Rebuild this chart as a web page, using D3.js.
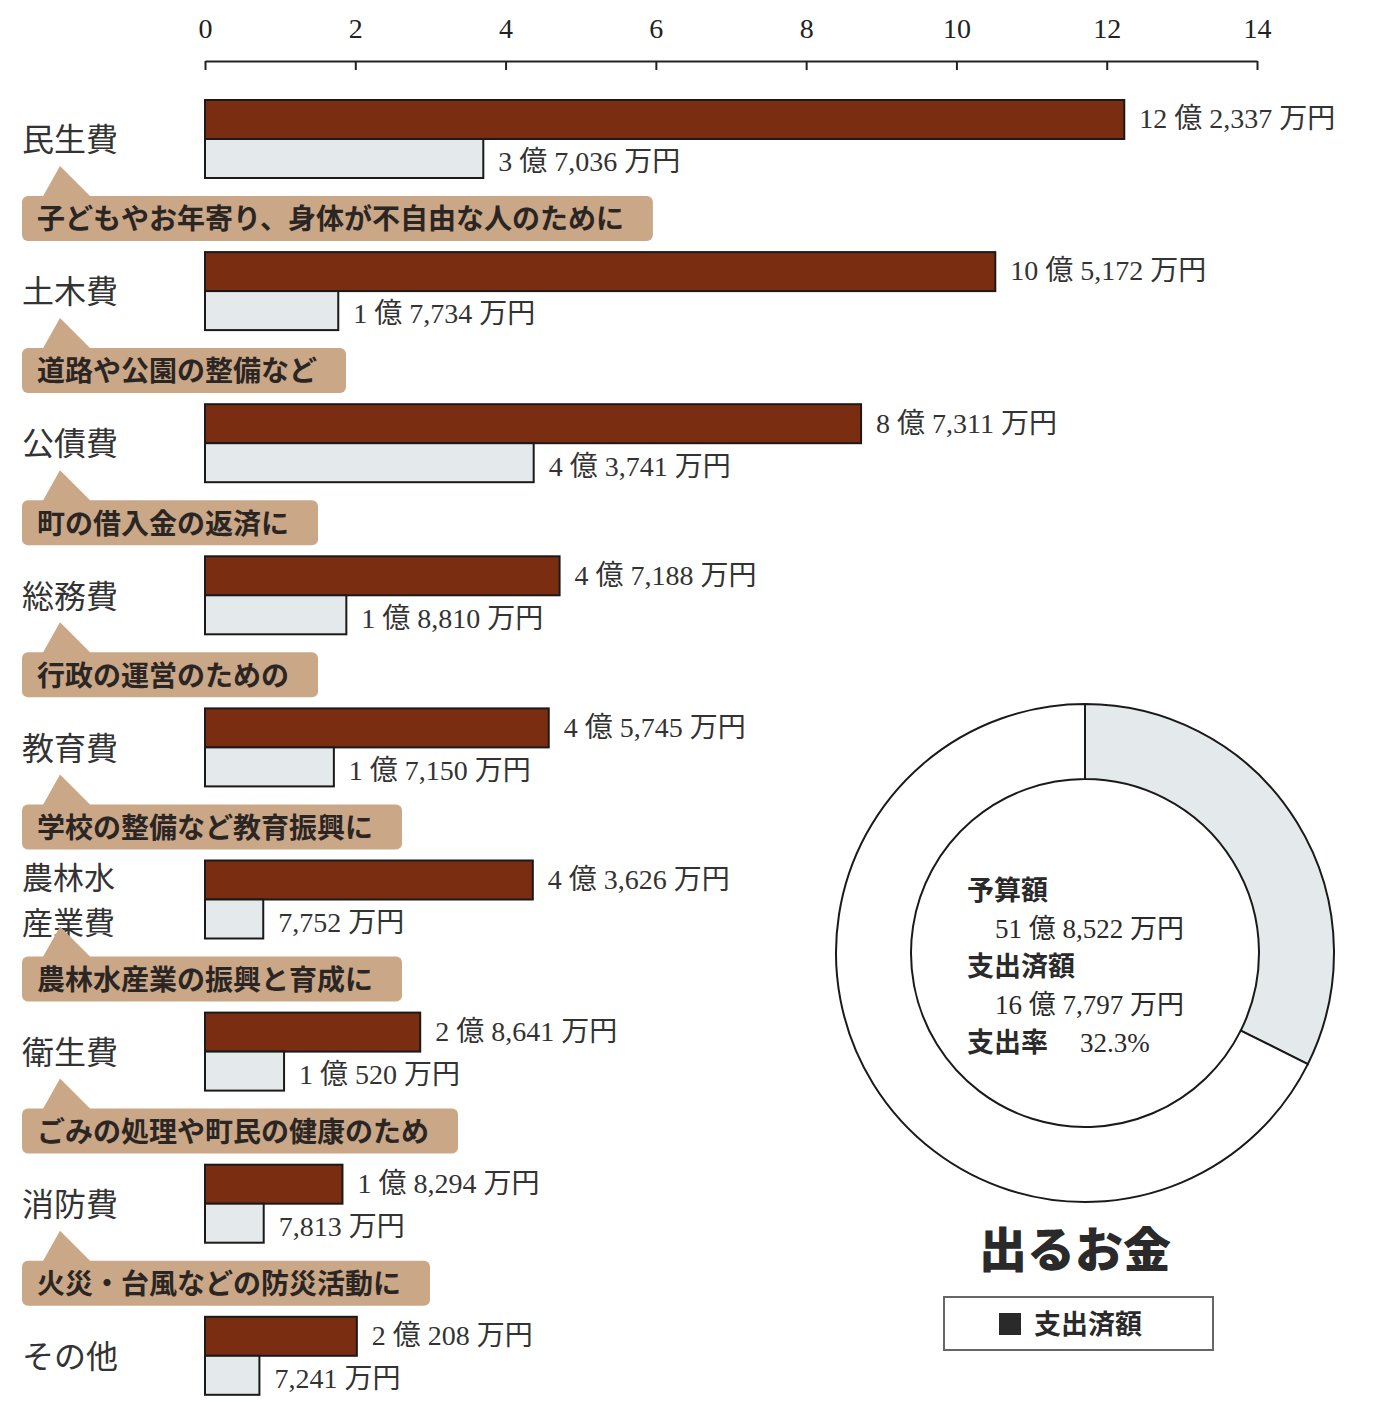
<!DOCTYPE html>
<html lang="ja">
<head>
<meta charset="utf-8">
<script src="https://cdn.jsdelivr.net/npm/d3@7"></script>
<style>
  html, body { margin: 0; padding: 0; background: #fff; }
  svg { display: block; }
</style>
</head>
<body>
<svg id="chart" width="1374" height="1402"></svg>
<script>
// 歳出の内訳（単位：億円）
const categories = ["民生費", "土木費", "公債費", "総務費", "教育費", "農林水産業費", "衛生費", "消防費", "その他"];
const categoryLines = [["民生費"], ["土木費"], ["公債費"], ["総務費"], ["教育費"], ["農林水", "産業費"], ["衛生費"], ["消防費"], ["その他"]];
const budget = [12.2337, 10.5172, 8.7311, 4.7188, 4.5745, 4.3626, 2.8641, 1.8294, 2.0208];
const spent  = [3.7036, 1.7734, 4.3741, 1.8810, 1.7150, 0.7752, 1.0520, 0.7813, 0.7241];
const budgetLabels = ["12 億 2,337 万円", "10 億 5,172 万円", "8 億 7,311 万円", "4 億 7,188 万円", "4 億 5,745 万円", "4 億 3,626 万円", "2 億 8,641 万円", "1 億 8,294 万円", "2 億 208 万円"];
const spentLabels  = ["3 億 7,036 万円", "1 億 7,734 万円", "4 億 3,741 万円", "1 億 8,810 万円", "1 億 7,150 万円", "7,752 万円", "1 億 520 万円", "7,813 万円", "7,241 万円"];
const purposes = ["子どもやお年寄り、身体が不自由な人のために", "道路や公園の整備など", "町の借入金の返済に", "行政の運営のための", "学校の整備など教育振興に", "農林水産業の振興と育成に", "ごみの処理や町民の健康のため", "火災・台風などの防災活動に", null];
const xTicks = [0, 2, 4, 6, 8, 10, 12, 14];

// 合計
const totalBudget = 51.8522;
const totalSpent = 16.7797;
const totalBudgetLabel = "51 億 8,522 万円";
const totalSpentLabel = "16 億 7,797 万円";
const spendRateLabel = "32.3%";

const DARK = "#7b2d12";
const LIGHT = "#e4e9eb";
const TAG = "#c9a787";
const SERIF = "'Liberation Serif', 'DejaVu Serif', 'Noto Sans CJK JP', serif";
const SANS = "'Noto Sans CJK JP', 'Noto Sans', sans-serif";

const svg = d3.select("#chart");

const x = d3.scaleLinear().domain([0, 14]).range([205, 1257]);
const y = d3.scaleBand().domain(categories).range([100, 100 + 9 * 152.1]).paddingInner(0);
const barH = 39;

// 上部の目盛り
const axis = svg.append("g").attr("transform", "translate(0,61)")
  .call(d3.axisBottom(x).tickValues(xTicks).tickSize(9).tickSizeOuter(0).tickFormat(d3.format("d")));
axis.select(".domain").attr("stroke", "#222").attr("stroke-width", 2);
axis.selectAll(".tick line").attr("stroke", "#222").attr("stroke-width", 2);
axis.selectAll(".tick text")
  .attr("y", -33).attr("dy", "0.35em")
  .attr("font-family", SERIF).attr("font-size", 28).attr("fill", "#222");

const groups = svg.append("g").selectAll("g")
  .data(categories)
  .join("g");

// 予算額の棒
groups.append("rect")
  .attr("x", x(0))
  .attr("y", d => y(d))
  .attr("width", (d, i) => x(budget[i]) - x(0))
  .attr("height", barH)
  .attr("fill", DARK)
  .attr("stroke", "#1a1a1a").attr("stroke-width", 2);

// 支出済額の棒
groups.append("rect")
  .attr("x", x(0))
  .attr("y", d => y(d) + barH)
  .attr("width", (d, i) => x(spent[i]) - x(0))
  .attr("height", barH)
  .attr("fill", LIGHT)
  .attr("stroke", "#1a1a1a").attr("stroke-width", 2);

// 金額ラベル
groups.append("text")
  .attr("x", (d, i) => x(budget[i]) + 15)
  .attr("y", d => y(d) + barH / 2 - 1)
  .attr("dy", "0.35em")
  .attr("font-family", SERIF).attr("font-size", 28).attr("fill", "#333")
  .text((d, i) => budgetLabels[i]);

groups.append("text")
  .attr("x", (d, i) => x(spent[i]) + 15)
  .attr("y", d => y(d) + barH * 1.5 + 3)
  .attr("dy", "0.35em")
  .attr("font-family", SERIF).attr("font-size", 28).attr("fill", "#333")
  .text((d, i) => spentLabels[i]);

// 科目名（2行のものは少し小さく）
groups.each(function(d, i) {
  const lines = categoryLines[i];
  const cy = y(d) + barH + 1;
  const multi = lines.length > 1;
  const lh = 45;
  d3.select(this).selectAll("text.cat")
    .data(lines)
    .join("text")
    .attr("class", "cat")
    .attr("x", 22)
    .attr("y", (s, j) => cy + (j - (lines.length - 1) / 2) * lh)
    .attr("dy", "0.35em")
    .attr("font-family", SANS).attr("font-size", multi ? 31 : 32).attr("fill", "#333")
    .text(s => s);
});

// 用途の吹き出し
groups.filter((d, i) => purposes[i]).each(function(d) {
  const idx = categories.indexOf(d);
  const g = d3.select(this);
  const top = y(d) + 96;
  const h = 45;
  const tag = g.append("g");
  const path = tag.append("path").attr("fill", TAG);
  const rect = tag.append("rect").attr("fill", TAG).attr("rx", 6);
  const txt = tag.append("text")
    .attr("x", 37).attr("y", top + h / 2 + 1).attr("dy", "0.35em")
    .attr("font-family", SANS).attr("font-size", 28).attr("font-weight", 700)
    .attr("fill", "#2b2623")
    .text(purposes[idx]);
  const w = txt.node().getComputedTextLength();
  rect.attr("x", 22).attr("y", top).attr("width", w + 44).attr("height", h);
  path.attr("d", `M42,${top + 2} L60,${top - 30} L92,${top + 2} Z`);
});

// ドーナツ（支出率）
const cx = 1085, cyD = 953, rOuter = 249, rInner = 174;
const donut = svg.append("g").attr("transform", `translate(${cx},${cyD})`);
const pie = d3.pie().sort(null).value(v => v)([totalSpent, totalBudget - totalSpent]);
const arc = d3.arc().innerRadius(rInner).outerRadius(rOuter);
donut.selectAll("path")
  .data(pie)
  .join("path")
  .attr("d", arc)
  .attr("fill", (p, i) => i === 0 ? LIGHT : "#fff")
  .attr("stroke", "#1a1a1a").attr("stroke-width", 2);

const info = svg.append("g").attr("font-size", 27);
const infoRows = [
  { x: 967, y: 891, t: "予算額", bold: true },
  { x: 995, y: 929, t: totalBudgetLabel, bold: false },
  { x: 967, y: 967, t: "支出済額", bold: true },
  { x: 995, y: 1005, t: totalSpentLabel, bold: false },
  { x: 967, y: 1043, t: "支出率", bold: true },
  { x: 1080, y: 1043, t: spendRateLabel, bold: false }
];
info.selectAll("text").data(infoRows).join("text")
  .attr("x", r => r.x).attr("y", r => r.y).attr("dy", "0.35em")
  .attr("font-family", r => r.bold ? SANS : SERIF)
  .attr("font-weight", r => r.bold ? 700 : 400)
  .attr("fill", "#2a2a2a")
  .text(r => r.t);

// 見出し
svg.append("text")
  .attr("x", 1075).attr("y", 1250).attr("dy", "0.35em")
  .attr("text-anchor", "middle")
  .attr("font-family", SANS).attr("font-size", 48).attr("font-weight", 900)
  .attr("fill", "#2a2a2a")
  .text("出るお金");

// 凡例
svg.append("rect")
  .attr("x", 944).attr("y", 1297).attr("width", 269).attr("height", 53)
  .attr("fill", "#fff").attr("stroke", "#666").attr("stroke-width", 2);
svg.append("rect")
  .attr("x", 999).attr("y", 1313).attr("width", 22).attr("height", 22)
  .attr("fill", "#2a2a2a");
svg.append("text")
  .attr("x", 1034).attr("y", 1325).attr("dy", "0.35em")
  .attr("font-family", SANS).attr("font-size", 27).attr("font-weight", 700)
  .attr("fill", "#2a2a2a")
  .text("支出済額");
</script>
</body>
</html>
